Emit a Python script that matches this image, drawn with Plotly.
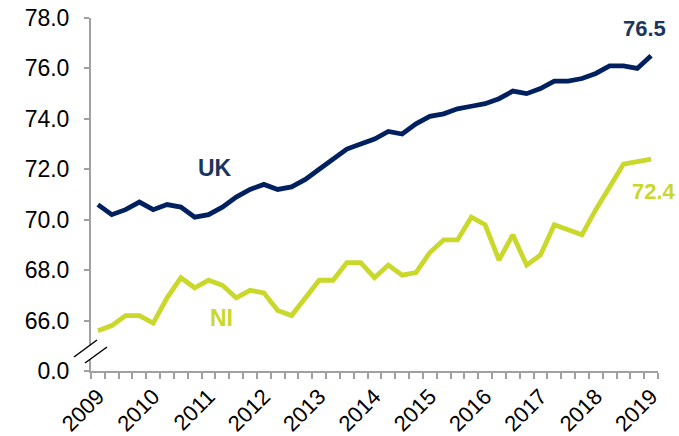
import plotly.graph_objects as go

quarters = list(range(41))  # 2009 Q1 .. 2019 Q1
uk = [70.6, 70.2, 70.4, 70.7, 70.4, 70.6, 70.5, 70.1, 70.2, 70.5,
      70.9, 71.2, 71.4, 71.2, 71.3, 71.6, 72.0, 72.4, 72.8, 73.0,
      73.2, 73.5, 73.4, 73.8, 74.1, 74.2, 74.4, 74.5, 74.6, 74.8,
      75.1, 75.0, 75.2, 75.5, 75.5, 75.6, 75.8, 76.1, 76.1, 76.0, 76.5]
ni = [65.6, 65.8, 66.2, 66.2, 65.9, 66.9, 67.7, 67.3, 67.6, 67.4,
      66.9, 67.2, 67.1, 66.4, 66.2, 66.9, 67.6, 67.6, 68.3, 68.3,
      67.7, 68.2, 67.8, 67.9, 68.7, 69.2, 69.2, 70.1, 69.8, 68.4,
      69.4, 68.2, 68.6, 69.8, 69.6, 69.4, 70.4, 71.3, 72.2, 72.3, 72.4]
year_ticks = [0, 4, 8, 12, 16, 20, 24, 28, 32, 36, 40]
year_labels = ["2009", "2010", "2011", "2012", "2013", "2014", "2015",
               "2016", "2017", "2018", "2019"]
y_tickvals = [64, 66, 68, 70, 72, 74, 76, 78]
y_ticktext = ["0.0", "66.0", "68.0", "70.0", "72.0", "74.0", "76.0", "78.0"]

UK_COL = "#002060"
NI_COL = "#C9D82B"
UK_TXT = "#1B365D"
AX_COL = "#A0A0A0"

fig = go.Figure()
fig.add_trace(go.Scatter(x=quarters, y=uk, mode="lines",
                         line=dict(color=UK_COL, width=4.8), name="UK"))
fig.add_trace(go.Scatter(x=quarters, y=ni, mode="lines",
                         line=dict(color=NI_COL, width=4.8), name="NI"))

fig.update_layout(
    width=679, height=436,
    margin=dict(l=91, r=21, t=18, b=65, autoexpand=False),
    paper_bgcolor="white", plot_bgcolor="white",
    showlegend=False,
    font=dict(family="Liberation Sans, Arial, sans-serif", size=20, color="#000000"),
)
fig.update_xaxes(
    range=[-0.5, 40.5], tickmode="array", tickvals=year_ticks, ticktext=year_labels,
    tickangle=-45, ticks="", showgrid=False, zeroline=False, automargin=False,
    showline=True, linecolor=AX_COL, linewidth=2,
    minor=dict(tickmode="linear", tick0=-0.5, dtick=1, ticks="outside",
               ticklen=6, tickcolor=AX_COL, tickwidth=2, showgrid=False),
    tickfont=dict(size=22), ticklabelstandoff=2,
)
fig.update_yaxes(
    range=[64, 78], tickmode="array", tickvals=y_tickvals, ticktext=y_ticktext,
    ticks="outside", ticklen=5, tickcolor=AX_COL, tickwidth=2, automargin=False,
    showgrid=False, zeroline=False, showline=True, linecolor=AX_COL, linewidth=2,
    tickfont=dict(size=23), ticklabelstandoff=10,
)

# axis break marks
x0p, wp, ybot, hp = 91.0, 567.0, 371.0, 353.0
def px(x):
    return (x - x0p) / wp
def py(y):
    return (ybot - y) / hp

gap = "M {} {} L {} {} L {} {} L {} {} Z".format(
    px(76), py(356), px(99), py(339), px(105), py(348), px(83), py(364))
fig.add_shape(type="path", path=gap, xref="paper", yref="paper",
              fillcolor="white", line=dict(width=0), layer="above")
for (ax, ay, bx, by) in [(74, 357, 97, 340), (85, 363, 107, 347)]:
    fig.add_shape(type="line", xref="paper", yref="paper",
                  x0=px(ax), y0=py(ay), x1=px(bx), y1=py(by),
                  line=dict(color="black", width=1.5), layer="above")

ann_font = "Liberation Sans, Arial, sans-serif"
fig.add_annotation(x=8.5, y=70.0 + (205 - 153.5) / 25.2, text="<b>UK</b>", showarrow=False,
                   font=dict(family=ann_font, size=23, color=UK_TXT))
fig.add_annotation(x=8.9, y=78 - (318 - 18) / 25.2, text="<b>NI</b>", showarrow=False,
                   font=dict(family=ann_font, size=23, color=NI_COL))
fig.add_annotation(x=40, y=uk[-1], text="<b>76.5</b>", showarrow=False,
                   xanchor="right", xshift=17, yshift=27,
                   font=dict(family=ann_font, size=22, color=UK_TXT))
fig.add_annotation(x=40, y=ni[-1], text="<b>72.4</b>", showarrow=False,
                   xanchor="right", xshift=27, yshift=-32,
                   font=dict(family=ann_font, size=22, color=NI_COL))

fig.write_html("out.html", config={"displayModeBar": False},
               post_script="document.body.style.margin='0';document.body.style.overflow='hidden';")
